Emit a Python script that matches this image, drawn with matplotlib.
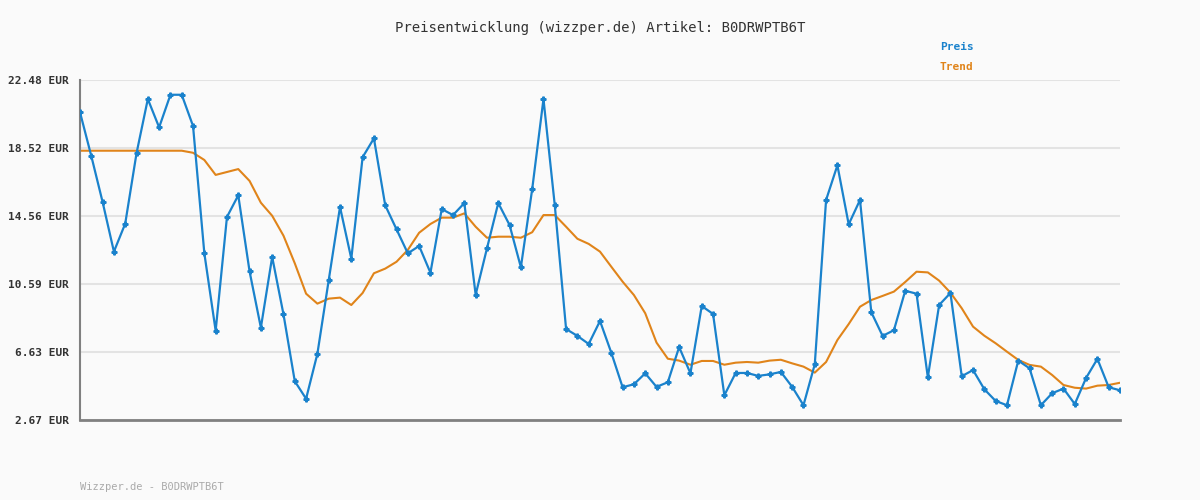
import matplotlib
matplotlib.use("Agg")
import matplotlib.pyplot as plt

price = [20.60,18.05,15.37,12.48,14.11,18.21,21.37,19.72,21.62,21.62,19.80,12.38,7.87,14.50,15.76,11.33,8.05,12.17,8.83,4.93,
         3.91,6.53,10.81,15.08,12.07,17.98,19.08,15.18,13.78,12.38,12.81,11.25,14.96,14.61,15.31,9.97,12.67,15.31,14.03,11.57,
         16.11,21.37,15.18,7.97,7.57,7.10,8.44,6.59,4.58,4.75,5.39,4.60,4.87,6.92,5.39,9.31,8.85,4.11,5.41,5.41,
         5.24,5.33,5.47,4.60,3.53,5.92,15.49,17.51,14.07,15.49,8.95,7.57,7.90,10.20,10.03,5.16,9.37,10.07,5.22,5.58,
         4.46,3.78,3.53,6.13,5.68,3.53,4.23,4.50,3.60,5.12,6.23,4.58,4.40]
trend = [18.36]*10 + [18.24,17.82,16.95,17.12,17.29,16.60,15.33,14.57,13.41,11.80,
         10.03,9.45,9.74,9.80,9.37,10.07,11.22,11.49,11.89,12.58,13.58,14.09,14.46,14.46,14.71,13.93,13.29,13.35,13.35,13.29,
         13.61,14.61,14.61,13.93,13.23,12.93,12.48,11.60,10.73,9.95,8.89,7.18,6.24,6.13,5.89,6.11,6.11,5.89,6.01,6.05,
         6.01,6.13,6.18,5.97,5.78,5.43,6.05,7.33,8.26,9.27,9.66,9.90,10.15,10.71,11.31,11.27,10.79,10.09,9.18,8.11,
         7.58,7.14,6.65,6.17,5.88,5.78,5.29,4.71,4.55,4.50,4.67,4.71,4.84]
yticks = [2.67,6.63,10.59,14.56,18.52,22.48]
title = "Preisentwicklung (wizzper.de) Artikel: B0DRWPTB6T"

plt.rcParams['font.family'] = ['DejaVu Sans Mono']
fig = plt.figure(figsize=(12,5), dpi=100, facecolor='#fafafa')
ax = fig.add_axes([80/1200, 80/500, 1040/1200, 340/500])
ax.set_facecolor('#fafafa')
x = list(range(len(price)))
ax.plot(x, trend, color='#e0841a', lw=1.5, zorder=2)
ax.plot(x, price, color='#1a82cc', lw=1.6, marker='P', ms=3.5, zorder=3)
ax.set_xlim(0, len(price)-1)
ax.set_ylim(2.67, 22.48)
ax.set_yticks(yticks)
ax.set_yticklabels([f"{v:.2f} EUR" for v in yticks], fontsize=8, fontweight='bold', color='#333333')
ax.set_xticks([])
ax.grid(axis='y', color='#e3e3e3', lw=1.5)
ax.tick_params(axis='y', length=0, pad=8)
for s in ['top','right']:
    ax.spines[s].set_visible(False)
ax.spines['left'].set_color('#808080'); ax.spines['left'].set_linewidth(1.5)
ax.spines['bottom'].set_color('#808080'); ax.spines['bottom'].set_linewidth(2)
fig.text(0.5, 1-28/500, title, ha='center', va='center', fontsize=10, color='#333333')
fig.text(940/1200, 1-47/500, "Preis", color='#1a82cc', fontsize=8, fontweight='bold', va='center')
fig.text(940/1200, 1-67/500, "Trend", color='#e0841a', fontsize=8, fontweight='bold', va='center')
fig.text(80/1200, 1-487/500, "Wizzper.de - B0DRWPTB6T", color='#aaaaaa', fontsize=7.5, va='center')
fig.savefig("out.png", dpi=100, facecolor='#fafafa')
